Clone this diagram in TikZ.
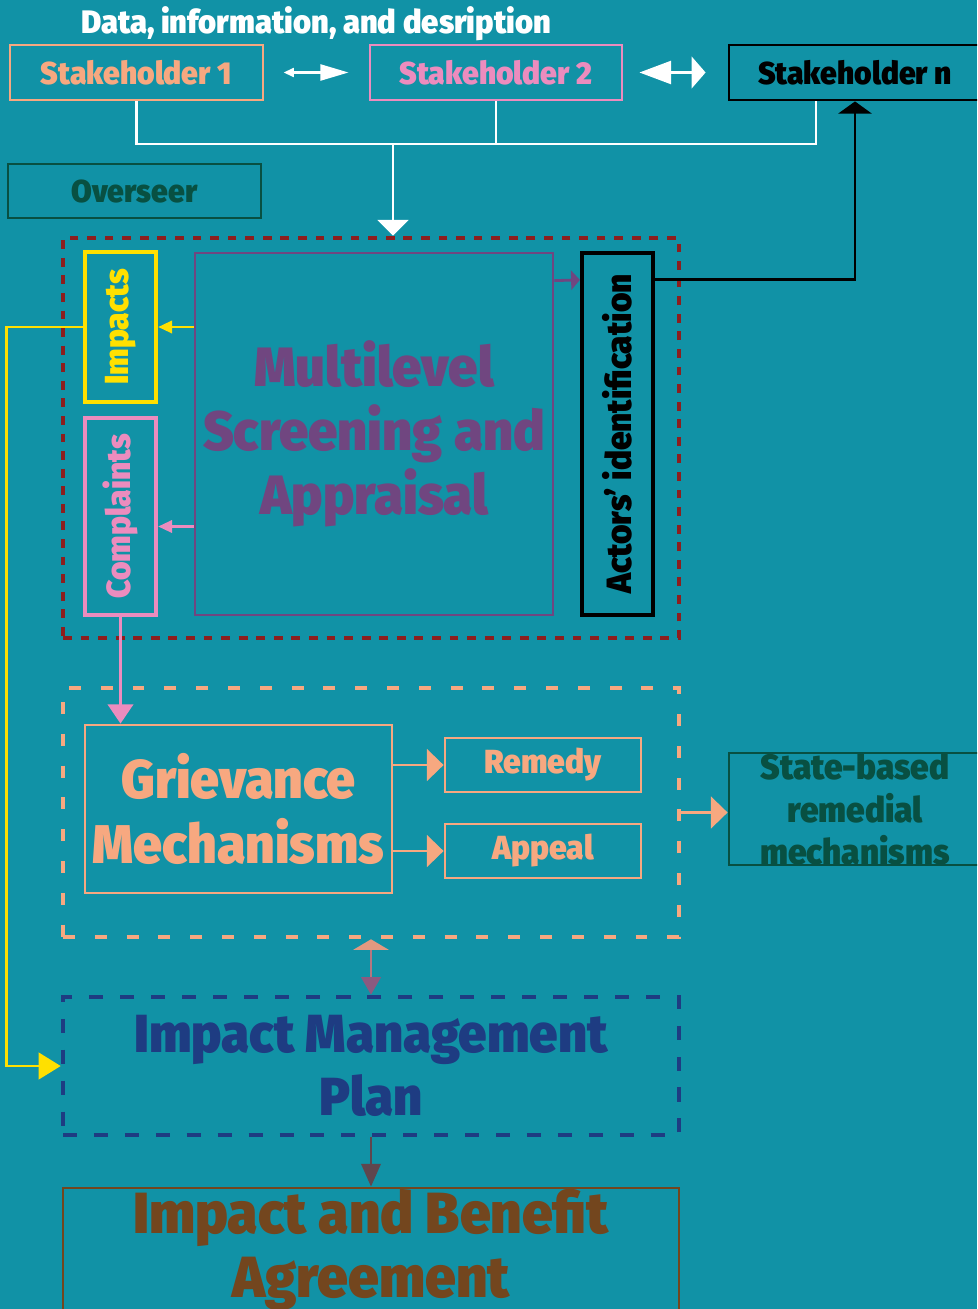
\documentclass[tikz,border=0pt]{standalone}
\usepackage{fontspec}
\setmainfont{Fira Sans}
\newfontfamily\heavy{Fira Sans Black}[FakeStretch=0.95]
\usetikzlibrary{arrows.meta,positioning}
\definecolor{bgTeal}{RGB}{17,146,166}
\definecolor{peach}{RGB}{247,168,128}
\definecolor{pinkish}{RGB}{236,140,190}
\definecolor{dkGreen}{RGB}{8,80,66}
\definecolor{dkRed}{RGB}{140,30,30}
\definecolor{sunYellow}{RGB}{255,224,0}
\definecolor{plum}{RGB}{112,70,128}
\definecolor{navy}{RGB}{30,60,130}
\definecolor{bark}{RGB}{115,70,30}
\definecolor{ash}{RGB}{95,70,78}
\newcommand{\fsz}[2]{\fontsize{#1}{#2}\selectfont}

\begin{document}
\begin{tikzpicture}[
  font=\heavy,
  box/.style={draw, line width=1.6pt, align=center, inner sep=0pt},
  thickbox/.style={draw, line width=2.4pt, align=center, inner sep=0pt},
  frame/.style={line width=2.6pt, inner sep=0pt},
  link/.style={line width=1.6pt},
  bigtip/.style={-{Triangle[length=9.5pt,width=18pt]}}
]
\fill[bgTeal] (0,0) rectangle (19.54,-26.18);
\clip (0,0) rectangle (19.54,-26.18);

\node[text=white, font=\heavy\fsz{18.5}{20}] (title) at (6.32,-0.48) {Data, information, and desription};

\node[box, draw=peach, text=peach, font=\heavy\fsz{18}{20}, minimum width=5.06cm, minimum height=1.1cm] (sh1) at (2.73,-1.45) {Stakeholder 1};
\node[box, draw=pinkish, text=pinkish, font=\heavy\fsz{18}{20}, minimum width=5.04cm, minimum height=1.1cm] (sh2) at (9.92,-1.45) {Stakeholder 2};
\node[box, draw=black, text=black, font=\heavy\fsz{18}{20}, minimum width=5.04cm, minimum height=1.1cm] (shn) at (17.1,-1.45) {Stakeholder n};

\draw[link, white, {Triangle[length=6pt,width=5pt]}-{Triangle[length=16pt,width=9pt]}, shorten <=0.38cm, shorten >=0.4cm] (sh1.east) -- (sh2.west);
\draw[link, white, {Triangle[length=18pt,width=13pt]}-{Triangle[length=8pt,width=18pt]}, shorten <=0.32cm, shorten >=0.44cm] (sh2.east) -- (shn.west);

\node[box, draw=dkGreen, text=dkGreen, font=\heavy\fsz{18}{20}, minimum width=5.06cm, minimum height=1.08cm] (overseer) at (2.69,-3.82) {Overseer};

\node[frame, draw=dkRed, dash pattern=on 5pt off 5pt, minimum width=12.32cm, minimum height=8cm] (screening) at (7.42,-8.76) {};
\node[frame, draw=peach, dash pattern=on 6.8pt off 11.3pt, minimum width=12.32cm, minimum height=4.98cm] (gframe) at (7.42,-16.25) {};
\node[frame, draw=navy, text=navy, dash pattern=on 8pt off 9.6pt, align=center, font=\heavy\fsz{30.5}{35.7}, minimum width=12.32cm, minimum height=2.76cm] (imp) at (7.42,-21.32) {Impact Management\\Plan};
\node[box, draw=bark, text=bark, font=\heavy\fsz{33}{36}, minimum width=12.32cm, minimum height=2.48cm] (iba) at (7.42,-25.0) {Impact and Benefit\\Agreement};

\coordinate (bus) at (7.86,-2.88);
\draw[link, white] (sh1.south) |- (bus) -| ([xshift=-0.78cm]shn.south);
\draw[link, white] (sh2.south) -- (sh2.south |- bus);
\draw[link, white, -{Triangle[length=9pt,width=17.5pt]}] (bus) -- (bus |- screening.north);

\node[thickbox, draw=sunYellow, text=sunYellow, font=\heavy\fsz{19}{20}, minimum width=1.42cm, minimum height=3cm] (impacts) at (2.41,-6.54) {\rotatebox{90}{Impacts}};
\node[thickbox, draw=pinkish, text=pinkish, font=\heavy\fsz{19}{20}, minimum width=1.42cm, minimum height=3.94cm] (complaints) at (2.41,-10.33) {\rotatebox{90}{Complaints}};
\node[box, draw=plum, text=plum, font=\heavy\fsz{31.5}{36.3}, minimum width=7.16cm, minimum height=7.24cm] (mlsa) at (7.48,-8.68) {Multilevel\\Screening and\\Appraisal};
\node[thickbox, draw=black, text=black, font=\heavy\fsz{20}{22}, minimum width=1.42cm, minimum height=7.24cm] (actors) at (12.35,-8.68) {\rotatebox{90}{Actors’ identification}};

\draw[link, sunYellow, -{Triangle[length=8pt,width=7pt]}] (mlsa.west |- impacts.east) -- (impacts.east);
\draw[link, pinkish, -{Triangle[length=8pt,width=7pt]}] ([yshift=-0.2cm]mlsa.west |- complaints.east) -- ([yshift=-0.2cm]complaints.east);
\draw[link, plum, -{Triangle[length=5pt,width=11pt]}] ([yshift=-0.58cm]mlsa.north east) -- ([yshift=-0.58cm]actors.north west);
\draw[link, black, -{Triangle[length=7pt,width=19pt]}] ([yshift=-0.58cm]actors.north east) -| (shn.south);
\draw[link, sunYellow, -{Triangle[length=12.5pt,width=15pt]}] (impacts.west) -- ++(-1.52,0) |- (imp.west);

\node[box, draw=peach, text=peach, font=\heavy\fsz{31}{36.9}, minimum width=6.14cm, minimum height=3.36cm] (griev) at (4.77,-16.18) {Grievance\\Mechanisms};
\node[box, draw=peach, text=peach, font=\heavy\fsz{19}{20}, minimum width=3.92cm, minimum height=1.08cm] (remedy) at (10.86,-15.3) {Remedy};
\node[box, draw=peach, text=peach, font=\heavy\fsz{19}{20}, minimum width=3.92cm, minimum height=1.08cm] (appeal) at (10.86,-17.02) {Appeal};
\node[box, draw=dkGreen, text=dkGreen, font=\heavy\fsz{20}{24}, minimum width=5.04cm, minimum height=2.24cm] (state) at (17.1,-16.18) {State-based\\remedial\\mechanisms};

\draw[link, pinkish, -{Triangle[length=11pt,width=14.5pt]}] (complaints.south) -- (complaints.south |- griev.north);
\draw[link, peach, bigtip] (griev.east |- remedy.west) -- (remedy.west);
\draw[link, peach, bigtip] (griev.east |- appeal.west) -- (appeal.west);
\draw[link, peach, bigtip] (gframe.east) -- (gframe.east -| state.west);

\draw[link, peach!50!plum, {Triangle[length=6pt,width=20pt,color=peach!85!plum]}-{Triangle[length=10pt,width=11pt,color=plum!80!peach]}] (gframe.south) -- (imp.north);
\draw[link, ash, -{Triangle[length=13pt,width=11pt]}] (imp.south) -- (iba.north);
\end{tikzpicture}
\end{document}
